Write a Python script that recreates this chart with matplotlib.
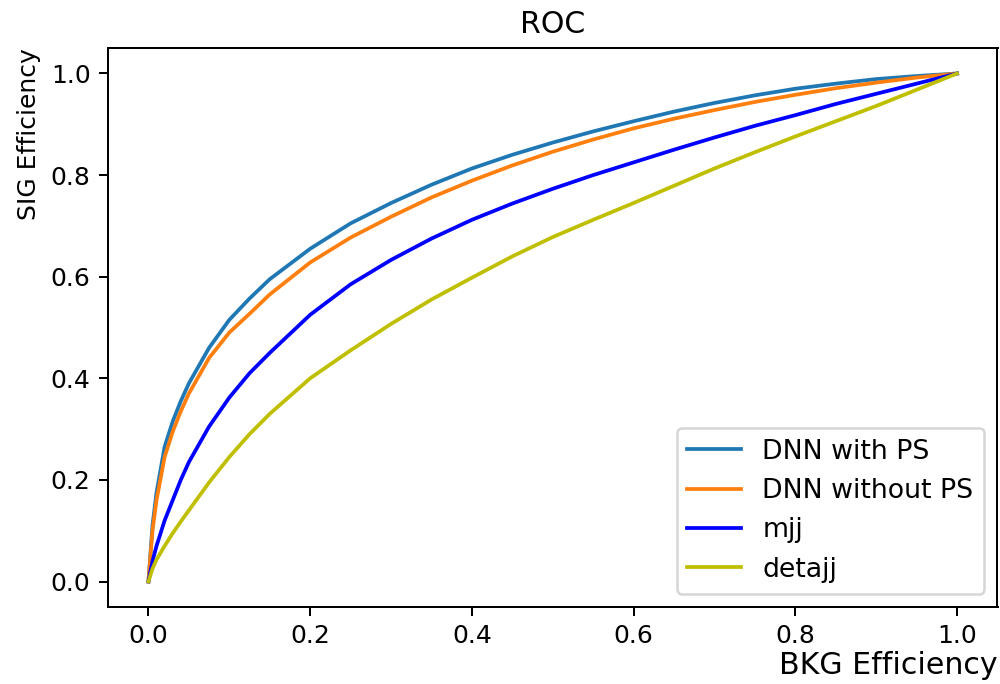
import numpy as np
import matplotlib
matplotlib.use('Agg')
import matplotlib.pyplot as plt

# BKG efficiency (x) shared by every curve
bkg_eff = [0.0, 0.005, 0.01, 0.02, 0.03, 0.04, 0.05, 0.075, 0.1, 0.125, 0.15, 0.2,
           0.25, 0.3, 0.35, 0.4, 0.45, 0.5, 0.55, 0.6, 0.65, 0.7, 0.75, 0.8,
           0.85, 0.9, 0.95, 1.0]

# SIG efficiency
sig_dnn_ps = [0.0, 0.11, 0.175, 0.265, 0.315, 0.355, 0.39, 0.46, 0.515, 0.557, 0.595,
              0.655, 0.705, 0.745, 0.781, 0.813, 0.84, 0.864, 0.886, 0.906, 0.925,
              0.942, 0.957, 0.97, 0.98, 0.989, 0.995, 1.0]
sig_dnn_nops = [0.0, 0.10, 0.16, 0.245, 0.295, 0.335, 0.37, 0.44, 0.49, 0.527, 0.565,
                0.628, 0.677, 0.718, 0.756, 0.789, 0.819, 0.846, 0.87, 0.892, 0.911,
                0.928, 0.944, 0.958, 0.971, 0.982, 0.992, 1.0]
sig_mjj = [0.0, 0.04, 0.07, 0.12, 0.16, 0.20, 0.235, 0.305, 0.362, 0.41, 0.45,
           0.525, 0.585, 0.633, 0.675, 0.712, 0.744, 0.773, 0.80, 0.825, 0.85,
           0.874, 0.897, 0.918, 0.94, 0.96, 0.98, 1.0]
sig_detajj = [0.0, 0.025, 0.043, 0.07, 0.095, 0.118, 0.14, 0.195, 0.245, 0.29, 0.33,
              0.40, 0.455, 0.507, 0.555, 0.598, 0.64, 0.678, 0.712, 0.745, 0.779,
              0.813, 0.845, 0.876, 0.906, 0.936, 0.968, 1.0]

labels = ['DNN with PS', 'DNN without PS', 'mjj', 'detajj']
colors = ['#1f77b4', '#ff7f0e', 'b', 'y']

fig = plt.figure(figsize=(1000 / 180, 684 / 180), dpi=180)
ax = fig.add_axes([0.108, 0.1127, 0.8895, 0.817])

for y, lab, c in zip([sig_dnn_ps, sig_dnn_nops, sig_mjj, sig_detajj], labels, colors):
    ax.plot(bkg_eff, y, color=c, label=lab)

ax.set_title('ROC')
ax.set_xlabel('BKG Efficiency', loc='right', fontsize=12, labelpad=1)
ax.set_ylabel('SIG Efficiency', loc='top')
ax.legend(loc='lower right', fontsize=10.7)

fig.savefig('out.png', dpi=180)
